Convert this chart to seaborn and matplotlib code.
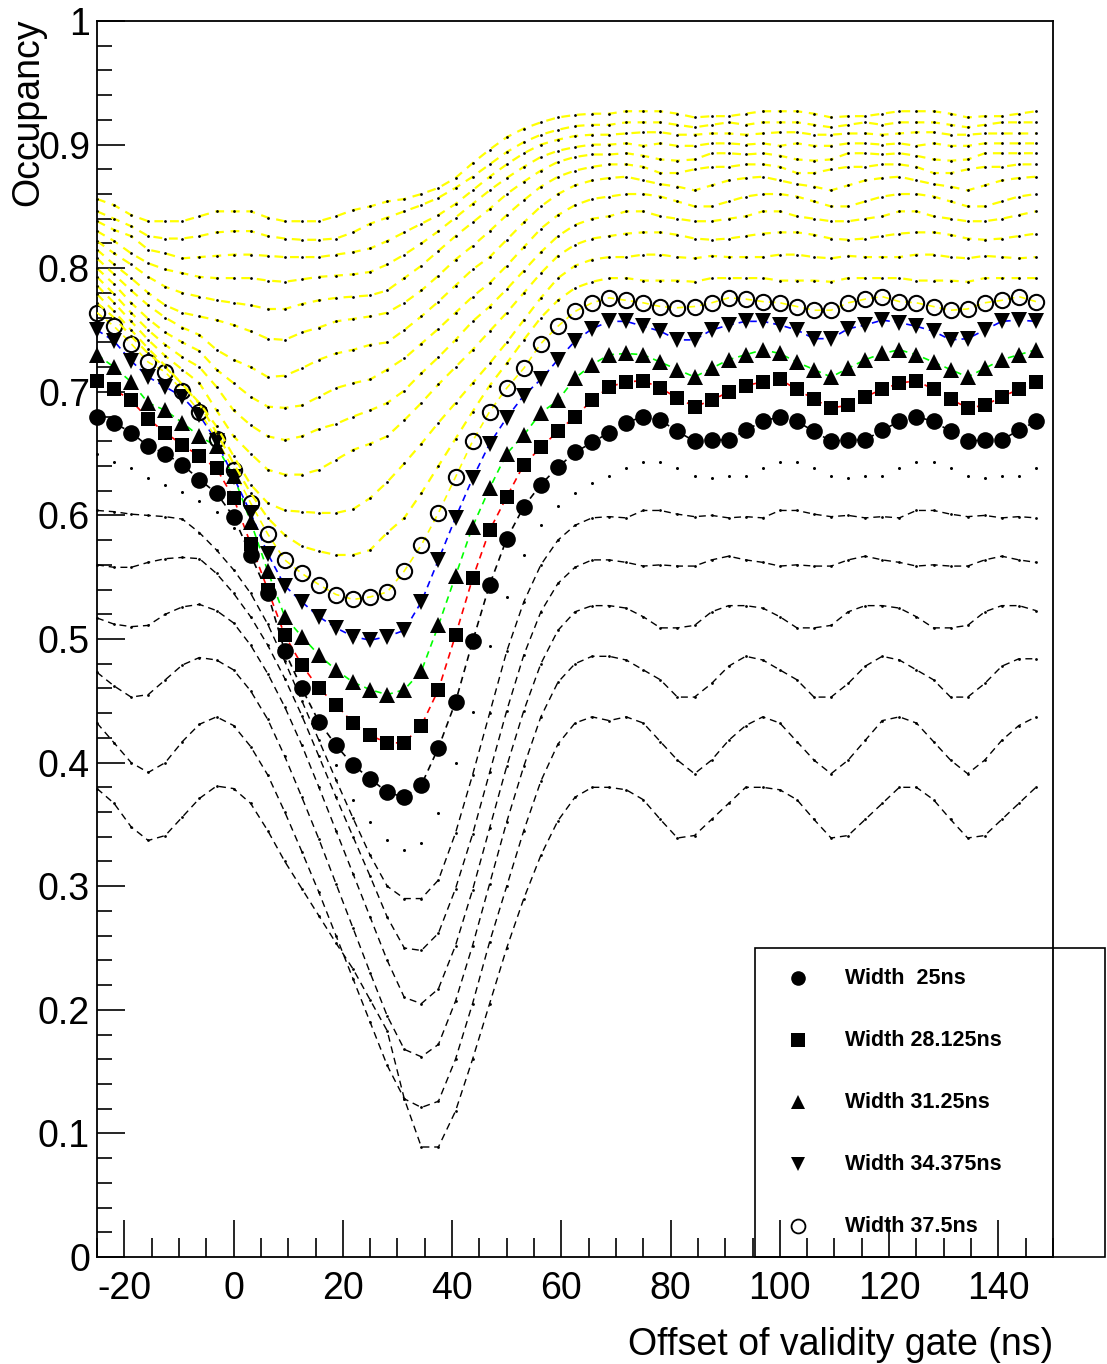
import numpy as np
import matplotlib
matplotlib.use("Agg")
import matplotlib.pyplot as plt
from matplotlib.lines import Line2D
from matplotlib.patches import Rectangle
from matplotlib.ticker import MultipleLocator, FuncFormatter
import seaborn as sns

# Offset of the validity gate (ns), one point every 3.125 ns
offsets = np.arange(-25.0, 147.0, 3.125)

# ---- widths shown with markers ----
occ_25 = [0.680, 0.675, 0.667, 0.656, 0.650, 0.641, 0.629, 0.618, 0.599, 0.568,
          0.537, 0.490, 0.460, 0.433, 0.414, 0.398, 0.387, 0.376, 0.372, 0.382,
          0.412, 0.449, 0.498, 0.544, 0.581, 0.607, 0.625, 0.639, 0.651, 0.659,
          0.667, 0.675, 0.680, 0.677, 0.668, 0.660, 0.661, 0.661, 0.669, 0.676,
          0.680, 0.676, 0.668, 0.660, 0.661, 0.661, 0.669, 0.676, 0.680, 0.676,
          0.668, 0.660, 0.661, 0.661, 0.669, 0.676]
occ_28p125 = [0.709, 0.702, 0.693, 0.678, 0.667, 0.657, 0.648, 0.638, 0.614, 0.577,
              0.540, 0.503, 0.479, 0.460, 0.447, 0.432, 0.422, 0.416, 0.416, 0.430,
              0.459, 0.503, 0.549, 0.588, 0.615, 0.641, 0.655, 0.668, 0.680, 0.693,
              0.704, 0.708, 0.709, 0.703, 0.695, 0.688, 0.693, 0.700, 0.705, 0.708,
              0.710, 0.702, 0.694, 0.687, 0.689, 0.696, 0.702, 0.707, 0.709, 0.702,
              0.694, 0.687, 0.689, 0.696, 0.702, 0.708]
occ_31p25 = [0.730, 0.720, 0.708, 0.691, 0.685, 0.675, 0.664, 0.656, 0.632, 0.595,
             0.555, 0.518, 0.502, 0.487, 0.475, 0.465, 0.459, 0.455, 0.459, 0.474,
             0.511, 0.551, 0.591, 0.622, 0.650, 0.665, 0.683, 0.693, 0.711, 0.722,
             0.730, 0.731, 0.730, 0.724, 0.718, 0.712, 0.719, 0.726, 0.730, 0.734,
             0.731, 0.724, 0.718, 0.712, 0.719, 0.726, 0.731, 0.734, 0.730, 0.724,
             0.718, 0.712, 0.719, 0.726, 0.730, 0.734]
occ_34p375 = [0.750, 0.741, 0.725, 0.712, 0.704, 0.696, 0.681, 0.660, 0.631, 0.602,
              0.569, 0.543, 0.530, 0.518, 0.509, 0.502, 0.499, 0.502, 0.507, 0.530,
              0.564, 0.598, 0.630, 0.658, 0.679, 0.697, 0.710, 0.726, 0.741, 0.751,
              0.757, 0.757, 0.753, 0.749, 0.742, 0.742, 0.750, 0.754, 0.757, 0.757,
              0.754, 0.750, 0.743, 0.743, 0.751, 0.754, 0.758, 0.756, 0.753, 0.749,
              0.742, 0.743, 0.750, 0.757, 0.758, 0.757]
occ_37p5 = [0.764, 0.753, 0.739, 0.724, 0.716, 0.701, 0.684, 0.662, 0.637, 0.610,
            0.585, 0.564, 0.553, 0.544, 0.536, 0.532, 0.534, 0.538, 0.555, 0.576,
            0.602, 0.631, 0.660, 0.684, 0.703, 0.719, 0.739, 0.753, 0.765, 0.772,
            0.776, 0.774, 0.772, 0.769, 0.768, 0.769, 0.772, 0.776, 0.775, 0.773,
            0.772, 0.769, 0.766, 0.766, 0.772, 0.775, 0.777, 0.773, 0.772, 0.769,
            0.766, 0.767, 0.772, 0.774, 0.777, 0.773]

# ---- narrower gates (black) ----
occ_3p125 = [0.379, 0.367, 0.348, 0.337, 0.341, 0.356, 0.371, 0.381, 0.379, 0.367,
             0.345, 0.320, 0.298, 0.276, 0.254, 0.233, 0.208, 0.183, 0.128, 0.089,
             0.089, 0.118, 0.160, 0.205, 0.250, 0.290, 0.325, 0.353, 0.372, 0.380,
             0.380, 0.378, 0.370, 0.354, 0.339, 0.341, 0.354, 0.367, 0.380, 0.380,
             0.378, 0.370, 0.354, 0.339, 0.341, 0.354, 0.367, 0.380, 0.380, 0.370,
             0.354, 0.339, 0.341, 0.354, 0.367, 0.380]
occ_6p25 = [0.432, 0.416, 0.400, 0.392, 0.400, 0.417, 0.431, 0.437, 0.430, 0.413,
            0.390, 0.360, 0.328, 0.295, 0.260, 0.225, 0.190, 0.155, 0.128, 0.121,
            0.126, 0.160, 0.205, 0.255, 0.300, 0.345, 0.385, 0.415, 0.432, 0.437,
            0.434, 0.437, 0.432, 0.417, 0.402, 0.391, 0.402, 0.418, 0.430, 0.437,
            0.432, 0.417, 0.402, 0.391, 0.402, 0.418, 0.434, 0.437, 0.432, 0.417,
            0.402, 0.391, 0.402, 0.418, 0.430, 0.437]
occ_9p375 = [0.473, 0.462, 0.453, 0.455, 0.467, 0.479, 0.485, 0.483, 0.475, 0.458,
             0.435, 0.405, 0.372, 0.338, 0.302, 0.266, 0.230, 0.195, 0.168, 0.162,
             0.172, 0.207, 0.252, 0.302, 0.352, 0.397, 0.437, 0.465, 0.480, 0.486,
             0.486, 0.483, 0.475, 0.467, 0.453, 0.453, 0.464, 0.478, 0.486, 0.483,
             0.475, 0.467, 0.453, 0.453, 0.464, 0.478, 0.486, 0.483, 0.475, 0.467,
             0.453, 0.453, 0.464, 0.478, 0.484, 0.484]
occ_12p5 = [0.517, 0.512, 0.510, 0.511, 0.520, 0.526, 0.528, 0.523, 0.513, 0.495,
            0.472, 0.445, 0.414, 0.380, 0.345, 0.310, 0.275, 0.240, 0.210, 0.205,
            0.217, 0.252, 0.297, 0.347, 0.397, 0.442, 0.480, 0.507, 0.522, 0.527,
            0.527, 0.525, 0.518, 0.509, 0.509, 0.511, 0.522, 0.527, 0.527, 0.525,
            0.518, 0.509, 0.509, 0.511, 0.522, 0.527, 0.527, 0.525, 0.518, 0.509,
            0.509, 0.511, 0.522, 0.527, 0.527, 0.523]
occ_15p625 = [0.560, 0.558, 0.558, 0.562, 0.565, 0.566, 0.565, 0.553, 0.537, 0.518,
              0.495, 0.468, 0.438, 0.405, 0.372, 0.340, 0.308, 0.275, 0.250, 0.248,
              0.262, 0.298, 0.342, 0.392, 0.442, 0.487, 0.522, 0.545, 0.558, 0.564,
              0.564, 0.562, 0.559, 0.560, 0.559, 0.559, 0.564, 0.567, 0.564, 0.562,
              0.559, 0.560, 0.559, 0.559, 0.564, 0.567, 0.564, 0.562, 0.559, 0.560,
              0.559, 0.559, 0.564, 0.567, 0.564, 0.562]
occ_18p75 = [0.604, 0.603, 0.601, 0.600, 0.599, 0.597, 0.586, 0.572, 0.556, 0.537,
             0.512, 0.482, 0.450, 0.418, 0.386, 0.355, 0.325, 0.300, 0.290, 0.290,
             0.305, 0.343, 0.390, 0.440, 0.490, 0.530, 0.560, 0.580, 0.592, 0.598,
             0.599, 0.598, 0.604, 0.604, 0.601, 0.599, 0.600, 0.598, 0.599, 0.598,
             0.604, 0.604, 0.601, 0.599, 0.600, 0.598, 0.599, 0.598, 0.604, 0.604,
             0.601, 0.599, 0.600, 0.598, 0.599, 0.598]
occ_21p875 = [0.650, 0.643, 0.638, 0.630, 0.625, 0.619, 0.612, 0.603, 0.590, 0.565,
              0.535, 0.500, 0.465, 0.430, 0.398, 0.370, 0.352, 0.337, 0.329, 0.335,
              0.359, 0.400, 0.441, 0.494, 0.534, 0.568, 0.592, 0.608, 0.618, 0.626,
              0.632, 0.638, 0.643, 0.643, 0.638, 0.632, 0.630, 0.632, 0.632, 0.638,
              0.643, 0.643, 0.638, 0.632, 0.630, 0.632, 0.632, 0.638, 0.643, 0.643,
              0.638, 0.632, 0.630, 0.632, 0.632, 0.638]

# ---- wider gates (yellow) ----
occ_40p625 = [0.772, 0.760, 0.745, 0.731, 0.720, 0.706, 0.690, 0.667, 0.642, 0.618,
              0.598, 0.584, 0.575, 0.571, 0.568, 0.568, 0.572, 0.586, 0.598, 0.618,
              0.640, 0.662, 0.684, 0.705, 0.723, 0.742, 0.760, 0.774, 0.784, 0.789,
              0.792, 0.792, 0.790, 0.790, 0.790, 0.789, 0.792, 0.792, 0.792, 0.792,
              0.790, 0.790, 0.790, 0.789, 0.792, 0.792, 0.792, 0.792, 0.790, 0.790,
              0.790, 0.789, 0.792, 0.792, 0.792, 0.792]
occ_43p75 = [0.779, 0.765, 0.750, 0.735, 0.721, 0.706, 0.691, 0.672, 0.648, 0.625,
             0.610, 0.604, 0.603, 0.602, 0.602, 0.605, 0.614, 0.627, 0.642, 0.658,
             0.675, 0.691, 0.707, 0.723, 0.740, 0.758, 0.776, 0.792, 0.802, 0.807,
             0.809, 0.809, 0.811, 0.811, 0.809, 0.808, 0.810, 0.809, 0.809, 0.809,
             0.811, 0.811, 0.809, 0.808, 0.810, 0.809, 0.809, 0.809, 0.811, 0.811,
             0.809, 0.808, 0.810, 0.809, 0.808, 0.809]
occ_46p875 = [0.786, 0.772, 0.757, 0.742, 0.729, 0.718, 0.707, 0.685, 0.664, 0.650,
              0.637, 0.633, 0.633, 0.637, 0.645, 0.653, 0.658, 0.664, 0.677, 0.691,
              0.706, 0.720, 0.734, 0.749, 0.764, 0.780, 0.796, 0.810, 0.819, 0.824,
              0.826, 0.828, 0.829, 0.829, 0.827, 0.824, 0.823, 0.824, 0.826, 0.828,
              0.829, 0.829, 0.827, 0.824, 0.823, 0.824, 0.826, 0.828, 0.829, 0.829,
              0.827, 0.824, 0.823, 0.824, 0.826, 0.828]
occ_50 = [0.793, 0.779, 0.764, 0.750, 0.738, 0.728, 0.720, 0.704, 0.685, 0.673,
          0.664, 0.661, 0.664, 0.670, 0.674, 0.680, 0.685, 0.691, 0.701, 0.715,
          0.728, 0.742, 0.757, 0.769, 0.783, 0.798, 0.813, 0.826, 0.835, 0.840,
          0.842, 0.846, 0.846, 0.842, 0.840, 0.838, 0.838, 0.840, 0.842, 0.846,
          0.846, 0.842, 0.840, 0.838, 0.838, 0.840, 0.842, 0.846, 0.846, 0.842,
          0.840, 0.838, 0.838, 0.840, 0.843, 0.846]
occ_53p125 = [0.800, 0.787, 0.772, 0.759, 0.748, 0.740, 0.733, 0.718, 0.707, 0.696,
              0.688, 0.687, 0.689, 0.696, 0.703, 0.707, 0.710, 0.718, 0.727, 0.739,
              0.751, 0.764, 0.777, 0.788, 0.802, 0.817, 0.832, 0.843, 0.851, 0.856,
              0.858, 0.860, 0.860, 0.858, 0.854, 0.850, 0.850, 0.854, 0.858, 0.860,
              0.860, 0.858, 0.854, 0.850, 0.850, 0.854, 0.858, 0.860, 0.860, 0.858,
              0.854, 0.850, 0.850, 0.854, 0.858, 0.860]
occ_56p25 = [0.808, 0.795, 0.782, 0.770, 0.760, 0.752, 0.746, 0.734, 0.726, 0.720,
             0.712, 0.713, 0.719, 0.726, 0.731, 0.734, 0.738, 0.740, 0.750, 0.761,
             0.773, 0.786, 0.799, 0.809, 0.823, 0.837, 0.850, 0.860, 0.867, 0.871,
             0.873, 0.874, 0.871, 0.868, 0.866, 0.863, 0.867, 0.871, 0.873, 0.874,
             0.871, 0.868, 0.866, 0.863, 0.867, 0.871, 0.873, 0.874, 0.871, 0.868,
             0.866, 0.863, 0.867, 0.871, 0.873, 0.874]
occ_59p375 = [0.815, 0.803, 0.792, 0.780, 0.770, 0.764, 0.761, 0.758, 0.754, 0.749,
              0.743, 0.742, 0.748, 0.752, 0.757, 0.759, 0.761, 0.764, 0.772, 0.782,
              0.794, 0.807, 0.818, 0.830, 0.843, 0.855, 0.866, 0.874, 0.879, 0.882,
              0.884, 0.884, 0.882, 0.877, 0.877, 0.880, 0.882, 0.882, 0.884, 0.884,
              0.882, 0.877, 0.877, 0.880, 0.882, 0.882, 0.884, 0.884, 0.882, 0.877,
              0.877, 0.880, 0.882, 0.882, 0.884, 0.884]
occ_62p5 = [0.822, 0.812, 0.803, 0.793, 0.785, 0.780, 0.777, 0.774, 0.772, 0.770,
            0.767, 0.767, 0.771, 0.774, 0.776, 0.777, 0.778, 0.782, 0.792, 0.802,
            0.814, 0.826, 0.837, 0.848, 0.860, 0.870, 0.879, 0.886, 0.890, 0.892,
            0.892, 0.893, 0.891, 0.888, 0.887, 0.888, 0.893, 0.893, 0.892, 0.893,
            0.891, 0.888, 0.887, 0.888, 0.893, 0.893, 0.892, 0.893, 0.891, 0.888,
            0.887, 0.888, 0.893, 0.893, 0.893, 0.893]
occ_65p625 = [0.830, 0.822, 0.812, 0.804, 0.799, 0.796, 0.793, 0.792, 0.792, 0.792,
              0.790, 0.789, 0.791, 0.793, 0.794, 0.795, 0.797, 0.803, 0.811, 0.820,
              0.830, 0.841, 0.852, 0.863, 0.873, 0.882, 0.890, 0.895, 0.898, 0.900,
              0.900, 0.901, 0.899, 0.901, 0.899, 0.899, 0.901, 0.901, 0.900, 0.901,
              0.899, 0.901, 0.899, 0.899, 0.901, 0.901, 0.900, 0.901, 0.899, 0.901,
              0.899, 0.899, 0.901, 0.901, 0.901, 0.901]
occ_68p75 = [0.838, 0.831, 0.826, 0.815, 0.812, 0.808, 0.809, 0.810, 0.811, 0.811,
             0.810, 0.809, 0.809, 0.809, 0.811, 0.813, 0.816, 0.822, 0.829, 0.836,
             0.843, 0.852, 0.863, 0.874, 0.884, 0.893, 0.900, 0.904, 0.907, 0.908,
             0.908, 0.909, 0.910, 0.910, 0.908, 0.908, 0.909, 0.909, 0.908, 0.909,
             0.910, 0.910, 0.908, 0.908, 0.909, 0.909, 0.908, 0.909, 0.910, 0.910,
             0.908, 0.908, 0.909, 0.909, 0.909, 0.909]
occ_71p875 = [0.846, 0.840, 0.834, 0.826, 0.824, 0.824, 0.826, 0.829, 0.830, 0.830,
              0.826, 0.824, 0.823, 0.823, 0.824, 0.829, 0.836, 0.841, 0.846, 0.851,
              0.857, 0.865, 0.874, 0.884, 0.894, 0.902, 0.908, 0.912, 0.915, 0.916,
              0.916, 0.918, 0.918, 0.918, 0.916, 0.914, 0.916, 0.918, 0.916, 0.918,
              0.918, 0.918, 0.916, 0.914, 0.916, 0.918, 0.916, 0.918, 0.918, 0.918,
              0.916, 0.914, 0.916, 0.918, 0.918, 0.918]
occ_75 = [0.856, 0.851, 0.843, 0.838, 0.838, 0.838, 0.842, 0.846, 0.846, 0.846,
          0.841, 0.838, 0.838, 0.838, 0.842, 0.847, 0.850, 0.854, 0.856, 0.860,
          0.865, 0.873, 0.885, 0.896, 0.906, 0.913, 0.918, 0.922, 0.924, 0.925,
          0.925, 0.927, 0.927, 0.927, 0.925, 0.922, 0.923, 0.923, 0.925, 0.927,
          0.927, 0.927, 0.925, 0.922, 0.923, 0.923, 0.925, 0.927, 0.927, 0.927,
          0.925, 0.922, 0.923, 0.923, 0.925, 0.927]

legend_labels = ["Width  25ns", "Width 28.125ns", "Width 31.25ns",
                 "Width 34.375ns", "Width 37.5ns"]

# ---------------------------------------------------------------------------
sns.set_theme(style="white", rc={
    "axes.edgecolor": "black", "axes.linewidth": 1.3,
    "xtick.color": "black", "ytick.color": "black", "text.color": "black",
})
plt.rcParams["font.family"] = ["Liberation Sans", "DejaVu Sans"]

W, H = 1107, 1364
fig = plt.figure(figsize=(W / 100, H / 100), dpi=100)
ax = fig.add_axes([97 / W, 1 - 1257 / H, (1053 - 97) / W, (1257 - 21) / H])

YELLOW = "#ffff00"


def line(values, color, style, lw, z):
    sns.lineplot(x=offsets, y=values, ax=ax, color=color, linestyle=style,
                 linewidth=lw, errorbar=None, legend=False, zorder=z)


def points(values, marker, size, face, edge, mew, z):
    sns.lineplot(x=offsets, y=values, ax=ax, color=edge, linestyle="none",
                 marker=marker, markersize=size, markerfacecolor=face,
                 markeredgecolor=edge, markeredgewidth=mew, clip_on=False,
                 errorbar=None, legend=False, zorder=z)


# narrow gates: dashed black with small dots at each point
for vals in [occ_3p125, occ_6p25, occ_9p375, occ_12p5, occ_15p625, occ_18p75]:
    line(vals, "black", (0, (5, 3.5)), 1.0, 2)
    points(vals, "o", 2.0, "black", "black", 0, 2)
points(occ_21p875, "o", 2.2, "black", "black", 0, 2)

# highlighted widths: coloured connecting lines, then markers
series = [
    (occ_25, "black", "o", 12, "black", 0.0),
    (occ_28p125, "#ff0000", "s", 10, "black", 0.0),
    (occ_31p25, "#00ff00", "^", 11, "black", 0.0),
    (occ_34p375, "#0000ff", "v", 11, "black", 0.0),
    (occ_37p5, YELLOW, "o", 11, "none", 1.5),
]
for vals, lc, mk, ms, face, mew in series:
    line(vals, lc, (0, (4, 3)), 1.2, 3)
for vals, lc, mk, ms, face, mew in series:
    points(vals, mk, ms, face, "black", mew, 4)

# wide gates: yellow dashed with black dots
for vals in [occ_40p625, occ_43p75, occ_46p875, occ_50, occ_53p125, occ_56p25,
             occ_59p375, occ_62p5, occ_65p625, occ_68p75, occ_71p875, occ_75]:
    line(vals, YELLOW, (0, (4, 3)), 1.6, 5)
    points(vals, "o", 2.0, "black", "black", 0, 6)

# axes
ax.set_xlim(-25, 150)
ax.set_ylim(0, 1)
ax.set_xlabel("")
ax.set_ylabel("")
ax.xaxis.set_major_locator(MultipleLocator(20))
ax.xaxis.set_minor_locator(MultipleLocator(5))
ax.yaxis.set_major_locator(MultipleLocator(0.1))
ax.yaxis.set_minor_locator(MultipleLocator(0.02))
fmt = FuncFormatter(lambda v, _: f"{v:g}")
ax.xaxis.set_major_formatter(fmt)
ax.yaxis.set_major_formatter(fmt)
ax.tick_params(axis="x", which="major", direction="in", length=26.5, width=1.2,
               labelsize=27, pad=10, bottom=True, top=False)
ax.tick_params(axis="x", which="minor", direction="in", length=13.5, width=1.2,
               bottom=True, top=False)
ax.tick_params(axis="y", which="major", direction="in", length=20, width=1.2,
               labelsize=27, pad=5, left=True, right=False)
ax.tick_params(axis="y", which="minor", direction="in", length=10.8, width=1.2,
               left=True, right=False)
for s in ax.spines.values():
    s.set_visible(True)
    s.set_color("black")
    s.set_linewidth(1.3)

fig.text(28 / W, 1 - 18 / H, "Occupancy", rotation=90, ha="center", va="top",
         fontsize=27)
fig.text(1053 / W, 1 - 1355 / H, "Offset of validity gate (ns)", ha="right",
         va="baseline", fontsize=27)

# legend box
fig.add_artist(Rectangle((755 / W, 1 - 1257 / H), (1105 - 755) / W, (1257 - 948) / H,
                         transform=fig.transFigure, fill=False, edgecolor="black",
                         linewidth=1.2, zorder=10))
leg_marks = [("o", 10.5, "black", 0.0), ("s", 9.5, "black", 0.0),
             ("^", 9.5, "black", 0.0), ("v", 9.5, "black", 0.0),
             ("o", 10, "none", 1.3)]
for i, (lab, (mk, ms, face, mew)) in enumerate(zip(legend_labels, leg_marks)):
    yc = 1 - (978 + 62 * i) / H
    fig.add_artist(Line2D([798 / W], [yc], transform=fig.transFigure, marker=mk,
                          markersize=ms, markerfacecolor=face, markeredgecolor="black",
                          markeredgewidth=mew, linestyle="none", zorder=11))
    fig.text(845 / W, yc, lab, ha="left", va="center", fontsize=15.5,
             fontweight="bold", zorder=11)

fig.savefig("out.png", dpi=100)
